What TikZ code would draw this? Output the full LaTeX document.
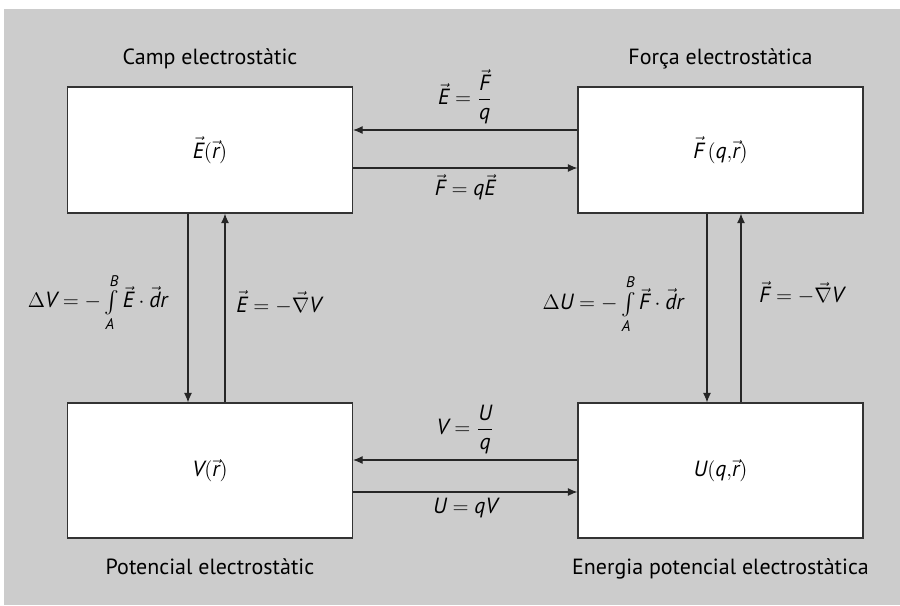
\documentclass[tikz,border=0pt]{standalone}
\usepackage{amsmath,amssymb}
\usepackage{fontspec}
\setmainfont{PT Sans}
\usepackage{tikz}
\usetikzlibrary{positioning,arrows.meta}

\newcommand{\mi}[1]{\textit{#1}}
\newcommand{\vc}[1]{\vec{\textit{#1}}}

\begin{document}
\begin{tikzpicture}[x=0.2mm, y=-0.2mm,
  box/.style={draw=black!80, line width=0.7pt, fill=white, minimum width=57mm, minimum height=25.2mm, font=\fontsize{12.5}{15}\selectfont},
  link/.style={-{Latex[length=1.9mm,width=1.6mm]}, draw=black!85, line width=0.6pt},
  eq/.style={font=\fontsize{12.5}{15}\selectfont},
  title/.style={font=\fontsize{12.5}{15}\selectfont}]
  % Grey background and page frame
  \useasboundingbox (0,0) rectangle (900,605);
  \fill[gray!40] (4,9) rectangle (900,605);
  % The four boxes
  \node[box] (field) at (210,150) {$\vc{E}(\vc{r})$};
  \node[box] (force) at (720.5,150) {$\vc{F}\,(\mi{q}{,}\vc{r})$};
  \node[box, minimum height=27mm] (pot) at (210,470.5) {$\mi{V}(\vc{r})$};
  \node[box, minimum height=27mm] (energy) at (720.5,470.5) {$\mi{U}(\mi{q}{,}\vc{r})$};
  % Titles
  \node[title, above=2.2mm of field] (tfield) {Camp electrostàtic};
  \node[title, above=2.2mm of force] (tforce) {Força electrostàtica};
  \node[title, below=2.8mm of pot] (tpot) {Potencial electrostàtic};
  \node[title, below=2.8mm of energy] (tenergy) {Energia potencial electrostàtica};
  % Top pair of arrows
  \draw[link] ([yshift=4mm]force.west) -- node[eq, above] (lef) {$\vc{E} = \dfrac{\vc{F}}{\mi{q}}$} ([yshift=4mm]field.east);
  \draw[link] ([yshift=-3.6mm]field.east) -- node[eq, below] (lfe) {$\vc{F} = \mi{q}\vc{E}$} ([yshift=-3.6mm]force.west);
  % Bottom pair of arrows
  \draw[link] ([yshift=2.1mm]energy.west) -- node[eq, above] (lvu) {$\mi{V} = \dfrac{\mi{U}}{\mi{q}}$} ([yshift=2.1mm]pot.east);
  \draw[link] ([yshift=-4.3mm]pot.east) -- node[eq, below] (luv) {$\mi{U} = \mi{q}\mi{V}$} ([yshift=-4.3mm]energy.west);
  % Left pair of arrows
  \draw[link] ([xshift=-4.4mm]field.south) -- node[eq, left=2.8mm, pos=0.47] (ldv)
    {$\Delta\mi{V} = -\textstyle\int\limits_{\mi{A}}^{\mi{B}}\vc{E}\cdot\vc{d}\mi{r}$} ([xshift=-4.4mm]pot.north);
  \draw[link] ([xshift=3mm]pot.north) -- node[eq, right=1mm, pos=0.53] (lgv)
    {$\vc{E} = -\vec{\nabla}\mi{V}$} ([xshift=3mm]field.south);
  % Right pair of arrows
  \draw[link] ([xshift=-2.7mm]force.south) -- node[eq, left=3.4mm, pos=0.48] (ldu)
    {$\Delta\mi{U} = -\textstyle\int\limits_{\mi{A}}^{\mi{B}}\vc{F}\cdot\vc{d}\mi{r}$} ([xshift=-2.7mm]energy.north);
  \draw[link] ([xshift=4.1mm]energy.north) -- node[eq, right=2.4mm, pos=0.58] (lgu)
    {$\vc{F} = -\vec{\nabla}\mi{V}$} ([xshift=4.1mm]force.south);
\end{tikzpicture}
\end{document}
